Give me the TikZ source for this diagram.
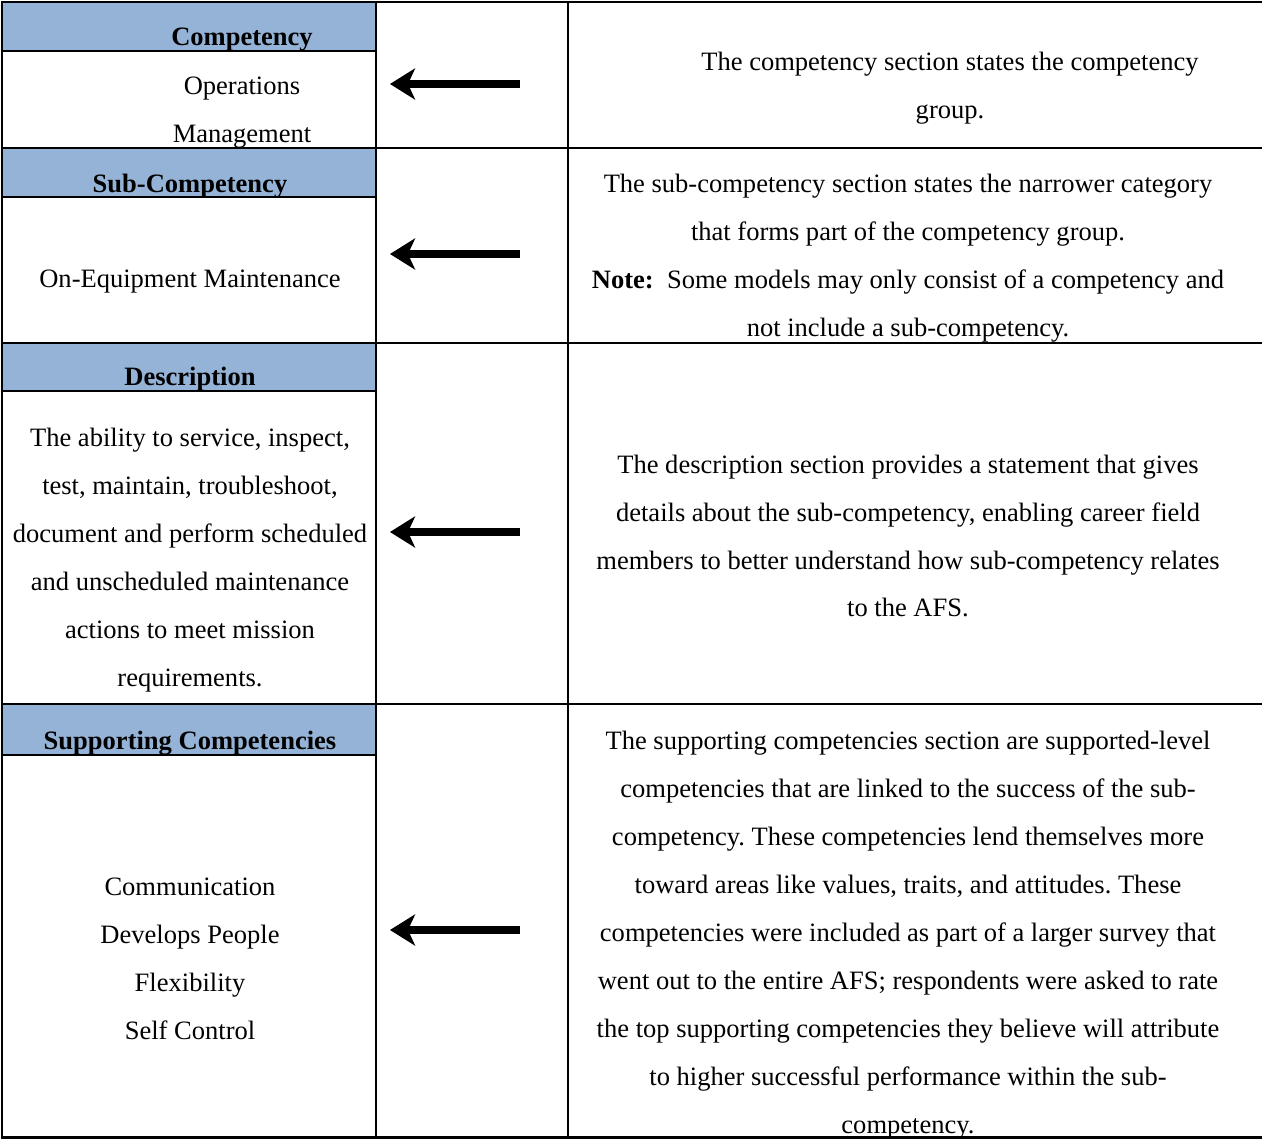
\documentclass[tikz,border=0pt]{standalone}
\usepackage{fontspec}
\setmainfont{Liberation Serif}
\usetikzlibrary{arrows.meta}
\definecolor{hdrblue}{RGB}{149,179,215}
\frenchspacing

\begin{document}
\begin{tikzpicture}[x=0.02cm,y=-0.02cm,
  every node/.style={font=\fontsize{15.1}{27.3}\selectfont,align=center,inner sep=0pt},
  hdr/.style={font=\fontsize{15.1}{27.3}\selectfont\bfseries},
  rule/.style={line width=1.7pt},
  bigarrow/.style={line width=4pt,-{Stealth[length=0.5cm,width=0.62cm,inset=0.14cm]}}]
  \useasboundingbox (0,0) rectangle (1262,1139);
  \fill[hdrblue] (2,2) rectangle (376,51);
  \fill[hdrblue] (2,148) rectangle (376,197);
  \fill[hdrblue] (2,343) rectangle (376,391);
  \fill[hdrblue] (2,704) rectangle (376,755);

  \draw[rule] (1262,2) -- (2,2) -- (2,1137) -- (1262,1137);
  \draw[rule] (2,148) -- (1262,148);
  \draw[rule] (2,343) -- (1262,343);
  \draw[rule] (2,704) -- (1262,704);
  \draw[rule] (2,51) -- (376,51);
  \draw[rule] (2,197) -- (376,197);
  \draw[rule] (2,391) -- (376,391);
  \draw[rule] (2,755) -- (376,755);
  \draw[rule] (376,2) -- (376,1137);
  \draw[rule] (568,2) -- (568,1137);

  \node[hdr] (comphead) at (242,40) {Competency};
  \node (compbody) at (242,113) {Operations\\Management};
  \node (compnote) at (950,88) {The competency section states the competency\\group.};

  \node[hdr] (subhead) at (190,186) {Sub-Competency};
  \node (subbody) at (190,282) {On-Equipment Maintenance};
  \node (subnote) at (908,258) {The sub-competency section states the narrower category\\
    that forms part of the competency group.\\
    \textbf{Note:}\ \ Some models may only consist of a competency and\\
    not include a sub-competency.};

  \node[hdr] (deschead) at (190,379) {Description};
  \node (descbody) at (190,560) {The ability to service, inspect,\\test, maintain, troubleshoot,\\
    document and perform scheduled\\and unscheduled maintenance\\actions to meet mission\\requirements.};
  \node (descnote) at (908,536) {The description section provides a statement that gives\\
    details about the sub-competency, enabling career field\\
    members to better understand how sub-competency relates\\to the AFS.};

  \node[hdr] (supphead) at (190,743) {Supporting Competencies};
  \node (suppbody) at (190,959) {Communication\\Develops People\\Flexibility\\Self Control};
  \node (suppnote) at (908,935) {The supporting competencies section are supported-level\\
    competencies that are linked to the success of the sub-\\
    competency. These competencies lend themselves more\\
    toward areas like values, traits, and attitudes. These\\
    competencies were included as part of a larger survey that\\
    went out to the entire AFS; respondents were asked to rate\\
    the top supporting competencies they believe will attribute\\
    to higher successful performance within the sub-\\
    competency.};

  \foreach \y/\n in {84/comp,254/sub,532/desc,930/supp} {
    \coordinate (\n tail) at (520,\y);
    \coordinate (\n tip) at (390,\y);
    \draw[bigarrow] (\n tail) -- (\n tip);
  }
\end{tikzpicture}
\end{document}
